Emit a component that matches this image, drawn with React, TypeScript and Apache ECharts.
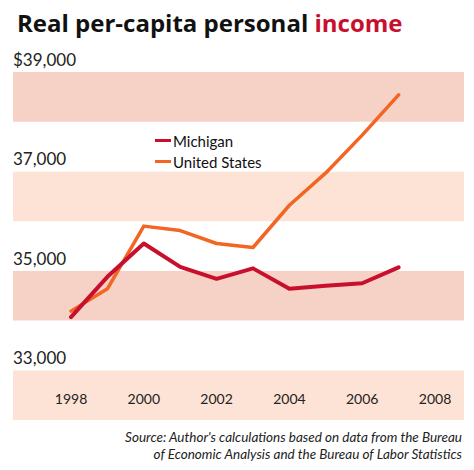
import React, { useEffect, useRef } from "react";
import * as echarts from "echarts";

const years = [1998, 1999, 2000, 2001, 2002, 2003, 2004, 2005, 2006, 2007];
const michigan = [34070, 34880, 35550, 35080, 34840, 35050, 34640, 34700, 34750, 35070];
const unitedStates = [34190, 34640, 35900, 35810, 35550, 35470, 36320, 36970, 37730, 38540];
const yTickLabels: Record<number, string> = {
  33000: "33,000",
  35000: "35,000",
  37000: "37,000",
  39000: "$39,000",
};
const sourceLines = [
  "Source: Author's calculations based on data from the Bureau",
  "of Economic Analysis and the Bureau of Labor Statistics",
];

const FONT = "Lato, 'Open Sans', sans-serif";
const TITLE_FONT = "'Open Sans', Lato, sans-serif";

const App = () => {
  const chartRef = useRef<HTMLDivElement>(null);

  useEffect(() => {
    if (!chartRef.current) return;
    document.body.style.margin = "0";

    const chart = echarts.init(chartRef.current, null, { renderer: "svg" });
    chart.setOption({
      animation: false,
      textStyle: { fontFamily: FONT },
      title: {
        left: 12,
        top: 5,
        text: "{a|Real per-capita personal }{b|income}",
        textStyle: {
          rich: {
            a: { fontSize: 24, fontWeight: "bold", color: "#111", fontFamily: TITLE_FONT },
            b: { fontSize: 24, fontWeight: "bold", color: "#c8102e", fontFamily: TITLE_FONT },
          },
        },
      },
      legend: {
        data: ["Michigan", "United States"],
        orient: "vertical",
        left: 150,
        top: 128,
        icon: "rect",
        itemWidth: 16,
        itemHeight: 3,
        itemGap: 6,
        textStyle: { fontSize: 15, color: "#111", padding: [0, 0, 0, -3] },
      },
      grid: [
        { left: 13, right: 10, top: 72, bottom: 50 },
        { left: 71, right: 39, top: 72, bottom: 50 },
      ],
      xAxis: [
        { type: "value", gridIndex: 0, min: 0, max: 1, show: false },
        {
          type: "value",
          gridIndex: 1,
          min: 1998,
          max: 2008,
          interval: 2,
          axisLine: { show: false },
          axisTick: { show: false },
          splitLine: { show: false },
          axisLabel: {
            inside: true,
            margin: 15,
            fontSize: 14,
            color: "#222",
            formatter: (v: number) => String(v),
          },
        },
      ],
      yAxis: [
        {
          type: "value",
          gridIndex: 0,
          min: 32000,
          max: 39000,
          interval: 1000,
          axisLine: { show: false },
          axisTick: { show: false },
          splitLine: { show: false },
          splitArea: {
            show: true,
            areaStyle: { color: ["#fde3d5", "#ffffff", "#f5d2c5", "#ffffff"] },
          },
          axisLabel: {
            inside: true,
            margin: 0,
            fontSize: 17,
            color: "#222",
            verticalAlign: "bottom",
            padding: [0, 0, 4, 0],
            showMinLabel: true,
            showMaxLabel: true,
            formatter: (v: number) => yTickLabels[v] || "",
          },
        },
        { type: "value", gridIndex: 1, min: 32000, max: 39000, show: false },
      ],
      graphic: sourceLines.map((line, i) => ({
        type: "text",
        right: 12,
        top: 430 + i * 17,
        style: {
          text: line,
          fontSize: 13.5,
          fontStyle: "italic",
          fontFamily: FONT,
          fill: "#222",
          textAlign: "right",
        },
      })),
      series: [
        {
          name: "United States",
          type: "line",
          xAxisIndex: 1,
          yAxisIndex: 1,
          showSymbol: false,
          color: "#f26522",
          lineStyle: { width: 3.5, cap: "round", join: "round" },
          data: years.map((y, i) => [y, unitedStates[i]]),
        },
        {
          name: "Michigan",
          type: "line",
          xAxisIndex: 1,
          yAxisIndex: 1,
          showSymbol: false,
          color: "#c8102e",
          lineStyle: { width: 4, cap: "round", join: "round" },
          data: years.map((y, i) => [y, michigan[i]]),
        },
      ],
    });

    return () => {
      chart.dispose();
    };
  }, []);

  return <div ref={chartRef} style={{ width: "474px", height: "470px" }}></div>;
};

export default App;
